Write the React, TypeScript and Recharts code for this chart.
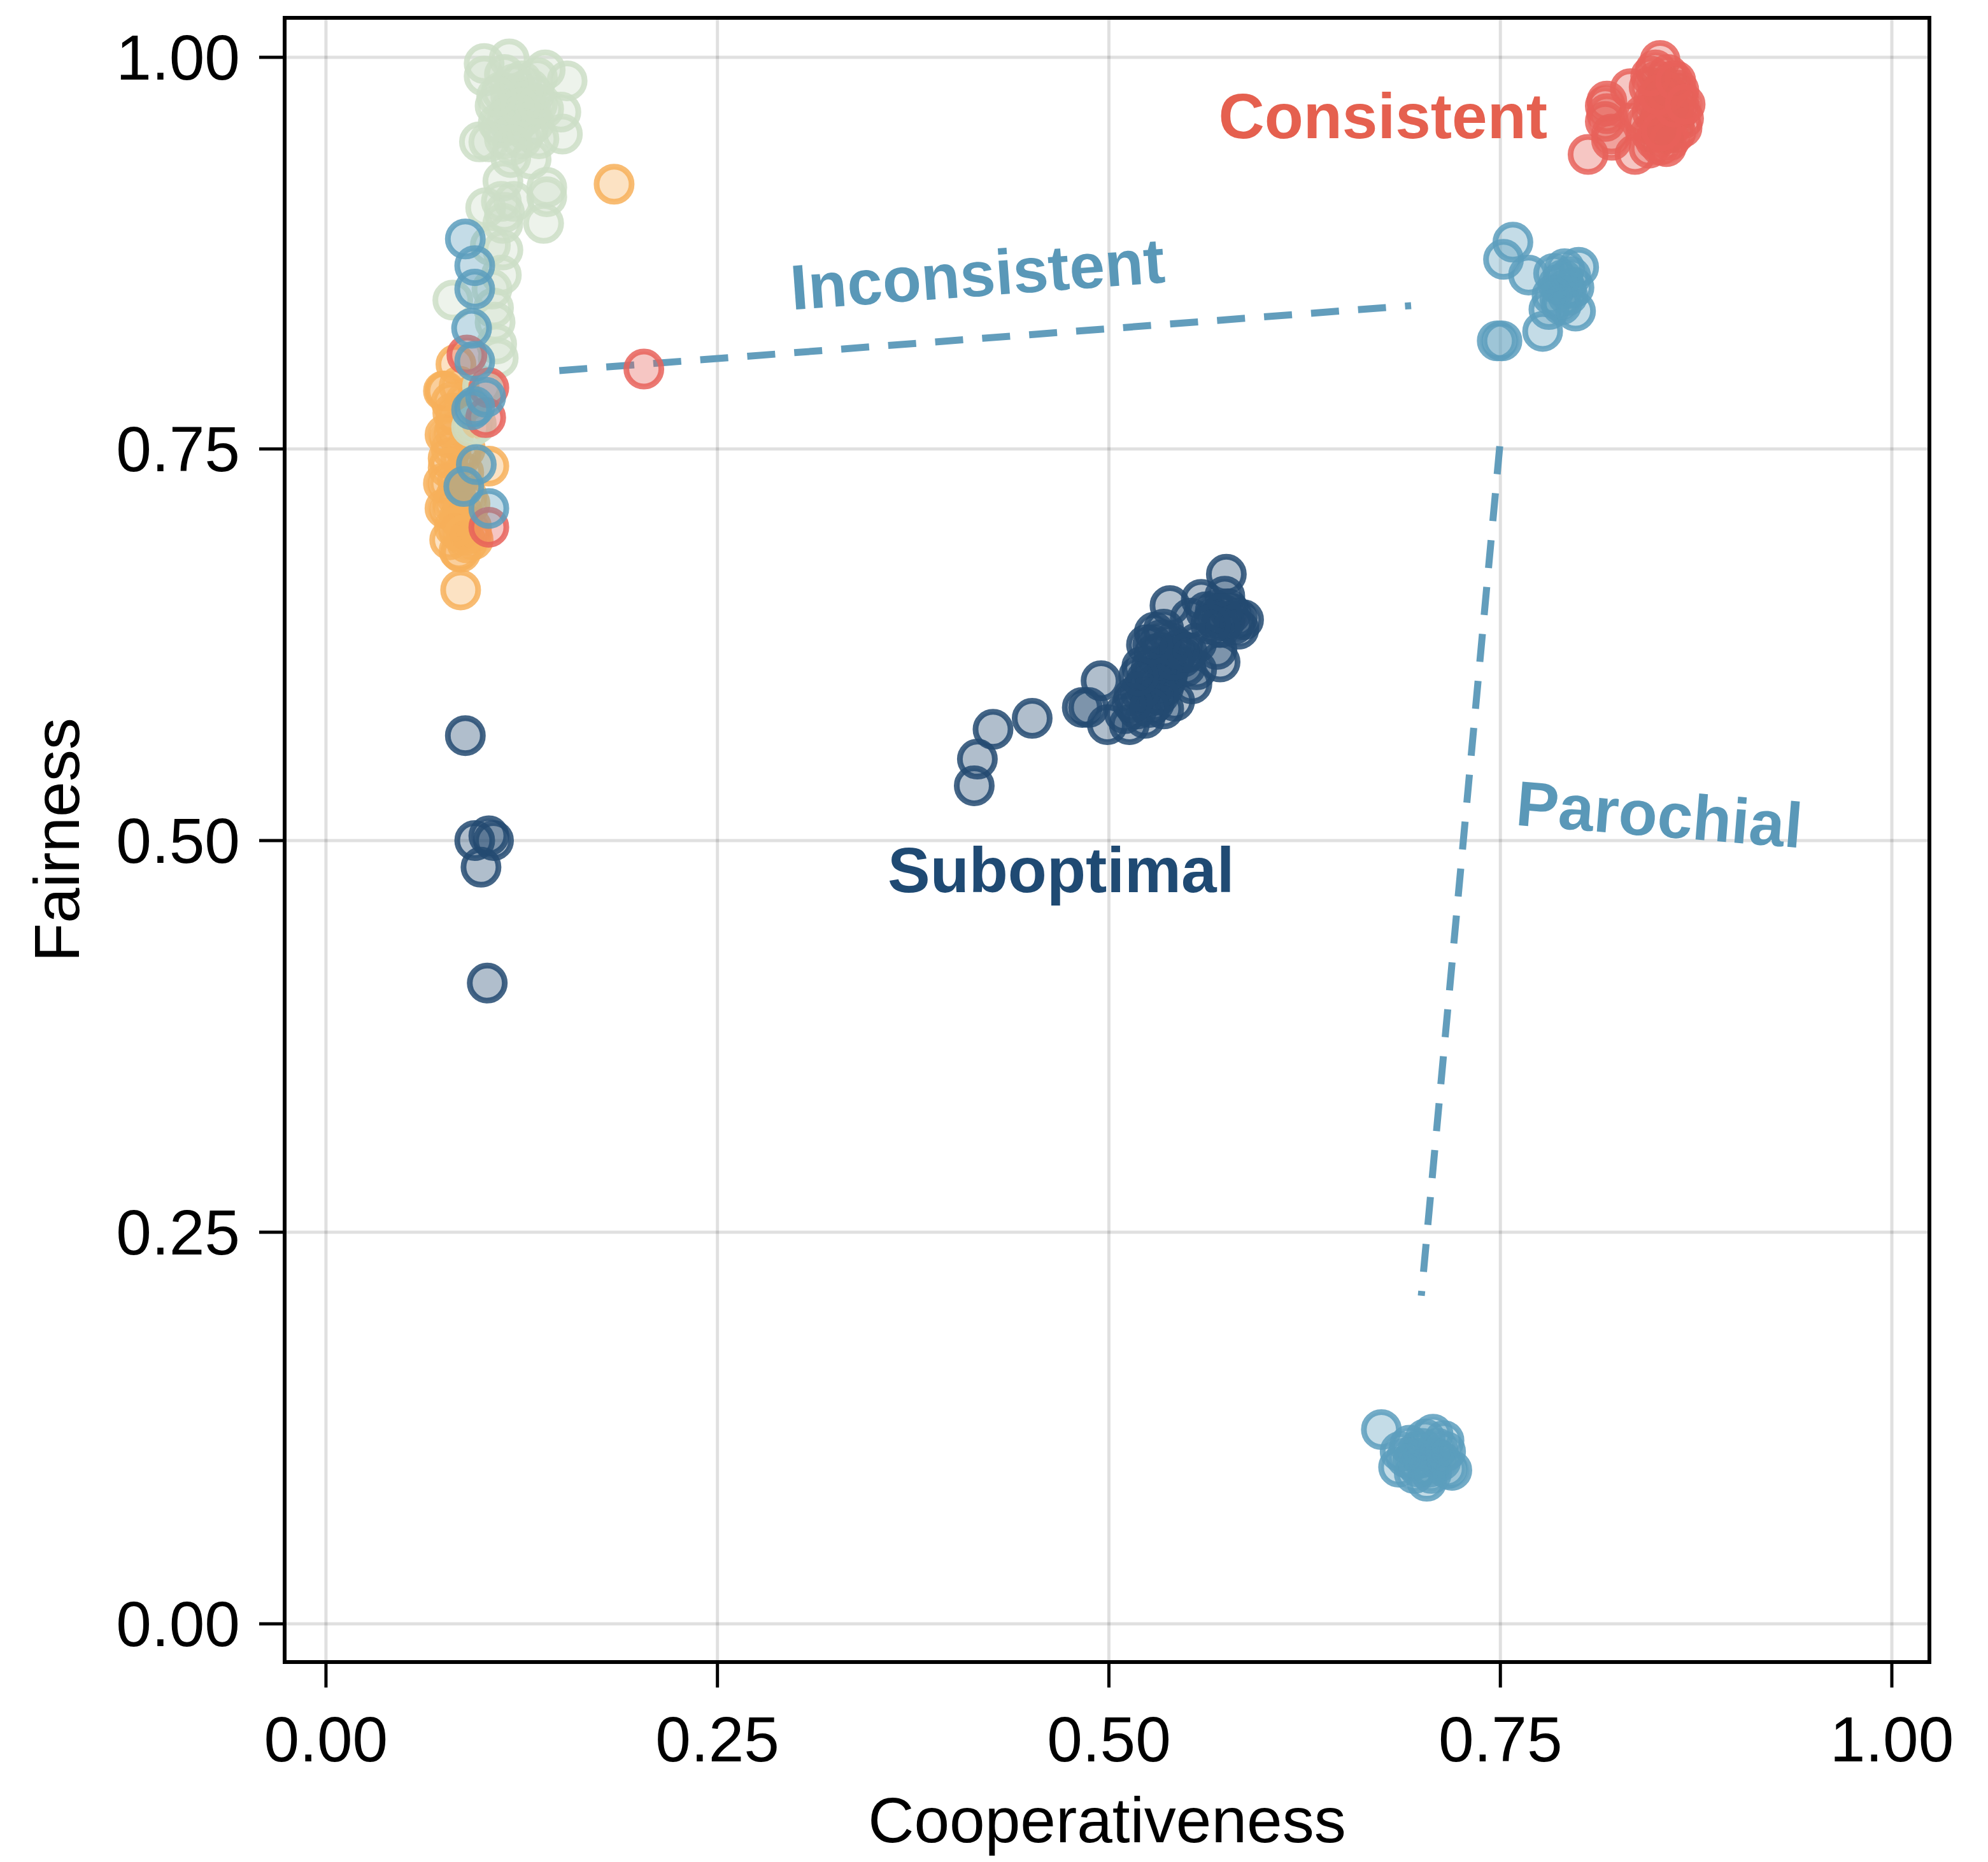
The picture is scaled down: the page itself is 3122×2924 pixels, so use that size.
import React from 'react';
import {
  ScatterChart,
  Scatter,
  XAxis,
  YAxis,
  CartesianGrid,
  ReferenceLine,
  ReferenceDot,
  ReferenceArea,
} from 'recharts';

interface Pt {
  x: number;
  y: number;
}

// values (cooperativeness, fairness)
const ORANGE_PTS: Pt[] = [
  { x: 0.184, y: 0.919 }, { x: 0.086, y: 0.66 }, { x: 0.086, y: 0.684 }, { x: 0.079, y: 0.692 },
  { x: 0.076, y: 0.787 }, { x: 0.083, y: 0.804 }, { x: 0.082, y: 0.761 }, { x: 0.078, y: 0.744 },
  { x: 0.078, y: 0.728 }, { x: 0.079, y: 0.711 }, { x: 0.104, y: 0.739 }, { x: 0.093, y: 0.7 },
  { x: 0.094, y: 0.692 }, { x: 0.087, y: 0.703 }, { x: 0.083, y: 0.771 }, { x: 0.085, y: 0.697 },
  { x: 0.076, y: 0.712 }, { x: 0.075, y: 0.728 }, { x: 0.076, y: 0.759 }, { x: 0.075, y: 0.787 },
  { x: 0.081, y: 0.773 }, { x: 0.089, y: 0.75 }, { x: 0.085, y: 0.706 }, { x: 0.093, y: 0.696 },
  { x: 0.085, y: 0.685 }, { x: 0.09, y: 0.72 }, { x: 0.088, y: 0.735 }, { x: 0.08, y: 0.75 },
  { x: 0.083, y: 0.72 }, { x: 0.09, y: 0.69 }, { x: 0.092, y: 0.715 },
  { x: 0.08, y: 0.78 }, { x: 0.083, y: 0.765 }, { x: 0.079, y: 0.757 }, { x: 0.086, y: 0.745 },
  { x: 0.084, y: 0.73 }, { x: 0.081, y: 0.715 }, { x: 0.087, y: 0.71 }, { x: 0.082, y: 0.7 },
  { x: 0.088, y: 0.695 }, { x: 0.078, y: 0.738 }, { x: 0.085, y: 0.79 }, { x: 0.089, y: 0.78 },
];

const GREEN_PTS: Pt[] = [
  { x: 0.101, y: 0.996 }, { x: 0.117, y: 0.999 }, { x: 0.14, y: 0.992 }, { x: 0.154, y: 0.985 },
  { x: 0.101, y: 0.988 }, { x: 0.15, y: 0.965 }, { x: 0.151, y: 0.951 }, { x: 0.098, y: 0.946 },
  { x: 0.131, y: 0.935 }, { x: 0.118, y: 0.936 }, { x: 0.113, y: 0.921 }, { x: 0.141, y: 0.917 },
  { x: 0.114, y: 0.989 }, { x: 0.125, y: 0.985 }, { x: 0.135, y: 0.987 }, { x: 0.112, y: 0.978 },
  { x: 0.122, y: 0.976 }, { x: 0.133, y: 0.976 }, { x: 0.108, y: 0.969 }, { x: 0.118, y: 0.967 },
  { x: 0.131, y: 0.966 }, { x: 0.139, y: 0.967 }, { x: 0.11, y: 0.958 }, { x: 0.121, y: 0.957 },
  { x: 0.133, y: 0.958 }, { x: 0.114, y: 0.948 }, { x: 0.125, y: 0.948 }, { x: 0.136, y: 0.948 },
  { x: 0.104, y: 0.946 }, { x: 0.139, y: 0.894 }, { x: 0.141, y: 0.911 }, { x: 0.102, y: 0.904 },
  { x: 0.114, y: 0.901 }, { x: 0.113, y: 0.877 }, { x: 0.112, y: 0.861 }, { x: 0.081, y: 0.845 },
  { x: 0.106, y: 0.852 }, { x: 0.108, y: 0.831 }, { x: 0.109, y: 0.817 }, { x: 0.107, y: 0.84 },
  { x: 0.112, y: 0.908 }, { x: 0.12, y: 0.908 }, { x: 0.113, y: 0.894 }, { x: 0.105, y: 0.88 },
  { x: 0.093, y: 0.764 }, { x: 0.11, y: 0.808 }, { x: 0.096, y: 0.766 }, { x: 0.1, y: 0.79 },
  { x: 0.118, y: 0.975 }, { x: 0.127, y: 0.972 }, { x: 0.116, y: 0.962 }, { x: 0.126, y: 0.962 },
  { x: 0.12, y: 0.983 }, { x: 0.13, y: 0.98 }, { x: 0.112, y: 0.955 }, { x: 0.128, y: 0.953 },
  { x: 0.124, y: 0.968 }, { x: 0.119, y: 0.944 }, { x: 0.135, y: 0.97 }, { x: 0.109, y: 0.975 },
];

const RED_PTS: Pt[] = [
  { x: 0.806, y: 0.938 }, { x: 0.836, y: 0.938 }, { x: 0.817, y: 0.969 }, { x: 0.817, y: 0.959 },
  { x: 0.821, y: 0.951 }, { x: 0.833, y: 0.98 }, { x: 0.852, y: 0.998 }, { x: 0.864, y: 0.979 },
  { x: 0.818, y: 0.972 }, { x: 0.818, y: 0.964 }, { x: 0.821, y: 0.947 }, { x: 0.849, y: 0.992 },
  { x: 0.857, y: 0.989 }, { x: 0.845, y: 0.981 }, { x: 0.854, y: 0.98 }, { x: 0.863, y: 0.977 },
  { x: 0.848, y: 0.972 }, { x: 0.858, y: 0.969 }, { x: 0.865, y: 0.967 }, { x: 0.841, y: 0.963 },
  { x: 0.852, y: 0.961 }, { x: 0.861, y: 0.958 }, { x: 0.867, y: 0.961 }, { x: 0.846, y: 0.952 },
  { x: 0.855, y: 0.951 }, { x: 0.862, y: 0.952 }, { x: 0.852, y: 0.944 }, { x: 0.845, y: 0.942 },
  { x: 0.856, y: 0.943 },
  { x: 0.85, y: 0.985 }, { x: 0.855, y: 0.975 }, { x: 0.86, y: 0.985 }, { x: 0.847, y: 0.965 },
  { x: 0.853, y: 0.968 }, { x: 0.859, y: 0.963 }, { x: 0.864, y: 0.972 }, { x: 0.85, y: 0.955 },
  { x: 0.857, y: 0.957 }, { x: 0.866, y: 0.955 }, { x: 0.843, y: 0.958 }, { x: 0.849, y: 0.947 },
  { x: 0.858, y: 0.947 }, { x: 0.853, y: 0.953 }, { x: 0.861, y: 0.968 }, { x: 0.856, y: 0.978 },
  { x: 0.851, y: 0.976 }, { x: 0.846, y: 0.988 }, { x: 0.862, y: 0.985 }, { x: 0.868, y: 0.97 },
  { x: 0.203, y: 0.801 }, { x: 0.104, y: 0.789 }, { x: 0.104, y: 0.7 },
  { x: 0.102, y: 0.77 }, { x: 0.09, y: 0.81 },
];

const NAVY_PTS: Pt[] = [
  { x: 0.414, y: 0.535 }, { x: 0.416, y: 0.552 }, { x: 0.426, y: 0.571 }, { x: 0.451, y: 0.578 },
  { x: 0.495, y: 0.602 }, { x: 0.487, y: 0.585 }, { x: 0.483, y: 0.585 }, { x: 0.499, y: 0.574 },
  { x: 0.513, y: 0.574 }, { x: 0.523, y: 0.578 }, { x: 0.535, y: 0.584 }, { x: 0.524, y: 0.625 },
  { x: 0.535, y: 0.635 }, { x: 0.539, y: 0.65 }, { x: 0.559, y: 0.654 }, { x: 0.575, y: 0.67 },
  { x: 0.574, y: 0.656 }, { x: 0.571, y: 0.614 }, { x: 0.553, y: 0.6 }, { x: 0.582, y: 0.642 },
  { x: 0.583, y: 0.635 }, { x: 0.529, y: 0.606 }, { x: 0.523, y: 0.599 }, { x: 0.543, y: 0.619 },
  { x: 0.549, y: 0.611 }, { x: 0.516, y: 0.592 }, { x: 0.526, y: 0.592 }, { x: 0.537, y: 0.603 },
  { x: 0.556, y: 0.626 }, { x: 0.567, y: 0.642 }, { x: 0.568, y: 0.647 }, { x: 0.578, y: 0.645 },
  { x: 0.552, y: 0.642 }, { x: 0.529, y: 0.633 }, { x: 0.54, y: 0.626 }, { x: 0.529, y: 0.619 },
  { x: 0.521, y: 0.611 }, { x: 0.537, y: 0.613 }, { x: 0.547, y: 0.617 }, { x: 0.524, y: 0.603 },
  { x: 0.535, y: 0.598 }, { x: 0.518, y: 0.584 }, { x: 0.51, y: 0.581 }, { x: 0.529, y: 0.588 },
  { x: 0.542, y: 0.589 }, { x: 0.556, y: 0.609 }, { x: 0.569, y: 0.622 }, { x: 0.586, y: 0.641 },
  { x: 0.562, y: 0.646 },
  { x: 0.527, y: 0.61 }, { x: 0.533, y: 0.62 }, { x: 0.53, y: 0.6 }, { x: 0.538, y: 0.608 },
  { x: 0.52, y: 0.595 }, { x: 0.532, y: 0.593 }, { x: 0.526, y: 0.585 }, { x: 0.515, y: 0.588 },
  { x: 0.541, y: 0.615 }, { x: 0.545, y: 0.622 }, { x: 0.533, y: 0.628 }, { x: 0.519, y: 0.605 },
  { x: 0.574, y: 0.64 }, { x: 0.576, y: 0.648 }, { x: 0.58, y: 0.638 }, { x: 0.572, y: 0.645 },
  { x: 0.571, y: 0.636 }, { x: 0.565, y: 0.638 }, { x: 0.55, y: 0.62 }, { x: 0.528, y: 0.625 },
  { x: 0.089, y: 0.567 }, { x: 0.095, y: 0.5 }, { x: 0.104, y: 0.503 }, { x: 0.107, y: 0.5 },
  { x: 0.099, y: 0.483 }, { x: 0.103, y: 0.409 },
];

const BLUE_PTS: Pt[] = [
  { x: 0.758, y: 0.882 }, { x: 0.752, y: 0.871 }, { x: 0.768, y: 0.861 }, { x: 0.791, y: 0.865 },
  { x: 0.8, y: 0.866 }, { x: 0.792, y: 0.852 }, { x: 0.798, y: 0.838 }, { x: 0.777, y: 0.825 },
  { x: 0.751, y: 0.819 }, { x: 0.781, y: 0.839 }, { x: 0.784, y: 0.862 }, { x: 0.788, y: 0.845 },
  { x: 0.748, y: 0.819 }, { x: 0.797, y: 0.853 },
  { x: 0.79, y: 0.858 }, { x: 0.793, y: 0.848 }, { x: 0.787, y: 0.855 }, { x: 0.795, y: 0.86 },
  { x: 0.789, y: 0.842 }, { x: 0.783, y: 0.848 },
  { x: 0.674, y: 0.124 }, { x: 0.692, y: 0.114 }, { x: 0.707, y: 0.121 }, { x: 0.714, y: 0.117 },
  { x: 0.685, y: 0.1 }, { x: 0.695, y: 0.096 }, { x: 0.703, y: 0.091 }, { x: 0.716, y: 0.099 },
  { x: 0.719, y: 0.098 }, { x: 0.7, y: 0.106 }, { x: 0.709, y: 0.106 }, { x: 0.686, y: 0.11 },
  { x: 0.697, y: 0.11 },
  { x: 0.7, y: 0.112 }, { x: 0.705, y: 0.1 }, { x: 0.71, y: 0.112 }, { x: 0.694, y: 0.104 },
  { x: 0.702, y: 0.118 }, { x: 0.712, y: 0.104 }, { x: 0.69, y: 0.106 }, { x: 0.698, y: 0.1 },
  { x: 0.706, y: 0.096 }, { x: 0.715, y: 0.11 },
  { x: 0.089, y: 0.884 }, { x: 0.095, y: 0.867 }, { x: 0.095, y: 0.852 }, { x: 0.093, y: 0.827 },
  { x: 0.095, y: 0.806 }, { x: 0.102, y: 0.783 }, { x: 0.093, y: 0.775 }, { x: 0.095, y: 0.777 },
  { x: 0.096, y: 0.74 }, { x: 0.088, y: 0.726 }, { x: 0.104, y: 0.712 },
];

const TICKS = [0, 0.25, 0.5, 0.75, 1];

const INCONSISTENT_LINE: [Pt, Pt] = [{ x: 0.149, y: 0.8 }, { x: 0.693, y: 0.8415 }];
const PAROCHIAL_LINE: [Pt, Pt] = [{ x: 0.7496, y: 0.7517 }, { x: 0.6995, y: 0.2094 }];

const LABEL_TEXT = ['Consistent', 'Inconsistent', 'Parochial', 'Suboptimal'];
const LABEL_POS: Pt[] = [
  { x: 0.675, y: 0.9626 },
  { x: 0.416, y: 0.862 },
  { x: 0.8516, y: 0.517 },
  { x: 0.4694, y: 0.4813 },
];
const LABEL_ANGLE = [0, -4.2, 4.6, 0];

const RED = '#E7625A';
const BLUE = '#5C9EBD';
const NAVY = '#234A71';
const ORANGE = '#F7B05A';
const GREEN = '#CDDEC7';
const LABEL_COLOR = ['#E5604F', '#5A98B8', '#5A98B8', '#1F4A73'];

const FONT = '"Liberation Sans", Arial, Helvetica, sans-serif';
const W = 3122;
const H = 2924;
const PLOT = { left: 447, top: 28, right: 3030, bottom: 2610 };
const X_DOMAIN: [number, number] = [-0.0264, 1.024];
const Y_DOMAIN: [number, number] = [-0.0244, 1.0252];

const marker = (color: string) => (p: any) => (
  <circle
    cx={p.cx}
    cy={p.cy}
    r={27.5}
    fill={color}
    fillOpacity={0.36}
    stroke={color}
    strokeOpacity={0.85}
    strokeWidth={9}
  />
);

const annotation = (i: number) => (p: any) => (
  <text
    x={p.cx}
    y={p.cy}
    dy="0.355em"
    textAnchor="middle"
    fontFamily={FONT}
    fontWeight="bold"
    fontSize={100}
    fill={LABEL_COLOR[i]}
    transform={`rotate(${LABEL_ANGLE[i]}, ${p.cx}, ${p.cy})`}
  >
    {LABEL_TEXT[i]}
  </text>
);

const tickStyle = { fontSize: 100, fill: '#000', fontFamily: FONT };
const fmt = (v: number) => v.toFixed(2);

export default function App() {
  const midX = (PLOT.left + PLOT.right) / 2;
  const midY = (PLOT.top + PLOT.bottom) / 2;

  return (
    <div style={{ position: 'absolute', left: 0, top: 0, background: '#fff' }}>
      <ScatterChart
        width={W}
        height={H}
        margin={{ top: PLOT.top, right: W - PLOT.right, bottom: 0, left: 0 }}
      >
        <CartesianGrid stroke="#000" strokeOpacity={0.12} strokeWidth={5} />
        <XAxis
          type="number"
          dataKey="x"
          domain={X_DOMAIN}
          allowDataOverflow
          ticks={TICKS}
          interval={0}
          tickFormatter={fmt}
          height={H - PLOT.bottom}
          tickSize={40}
          tickMargin={45}
          axisLine={false}
          tickLine={{ stroke: '#000', strokeWidth: 5 }}
          tick={tickStyle}
          label={() => (
            <text x={midX} y={2893} textAnchor="middle" fontFamily={FONT} fontSize={100} fill="#000">
              Cooperativeness
            </text>
          )}
        />
        <YAxis
          type="number"
          dataKey="y"
          domain={Y_DOMAIN}
          allowDataOverflow
          ticks={TICKS}
          interval={0}
          tickFormatter={fmt}
          width={PLOT.left}
          tickSize={40}
          tickMargin={30}
          axisLine={false}
          tickLine={{ stroke: '#000', strokeWidth: 5 }}
          tick={tickStyle}
          label={() => (
            <text
              x={124}
              y={midY}
              textAnchor="middle"
              fontFamily={FONT}
              fontSize={100}
              fill="#000"
              transform={`rotate(-90, 124, ${midY})`}
            >
              Fairness
            </text>
          )}
        />
        <Scatter name="orange" data={ORANGE_PTS} shape={marker(ORANGE)} isAnimationActive={false} />
        <Scatter name="green" data={GREEN_PTS} shape={marker(GREEN)} isAnimationActive={false} />
        <Scatter name="Consistent" data={RED_PTS} shape={marker(RED)} isAnimationActive={false} />
        <Scatter name="Suboptimal" data={NAVY_PTS} shape={marker(NAVY)} isAnimationActive={false} />
        <Scatter name="Inconsistent" data={BLUE_PTS} shape={marker(BLUE)} isAnimationActive={false} />
        <ReferenceLine
          segment={INCONSISTENT_LINE}
          stroke="#5A98B8"
          strokeOpacity={0.95}
          strokeWidth={11}
          strokeDasharray="44 30"
        />
        <ReferenceLine
          segment={PAROCHIAL_LINE}
          stroke="#5A98B8"
          strokeOpacity={0.95}
          strokeWidth={11}
          strokeDasharray="44 30"
        />
        {LABEL_POS.map((p, i) => (
          <ReferenceDot key={LABEL_TEXT[i]} x={p.x} y={p.y} r={0} shape={annotation(i)} />
        ))}
        <ReferenceArea
          x1={X_DOMAIN[0]}
          x2={X_DOMAIN[1]}
          y1={Y_DOMAIN[0]}
          y2={Y_DOMAIN[1]}
          fill="none"
          stroke="#000"
          strokeWidth={6}
        />
      </ScatterChart>
    </div>
  );
}
